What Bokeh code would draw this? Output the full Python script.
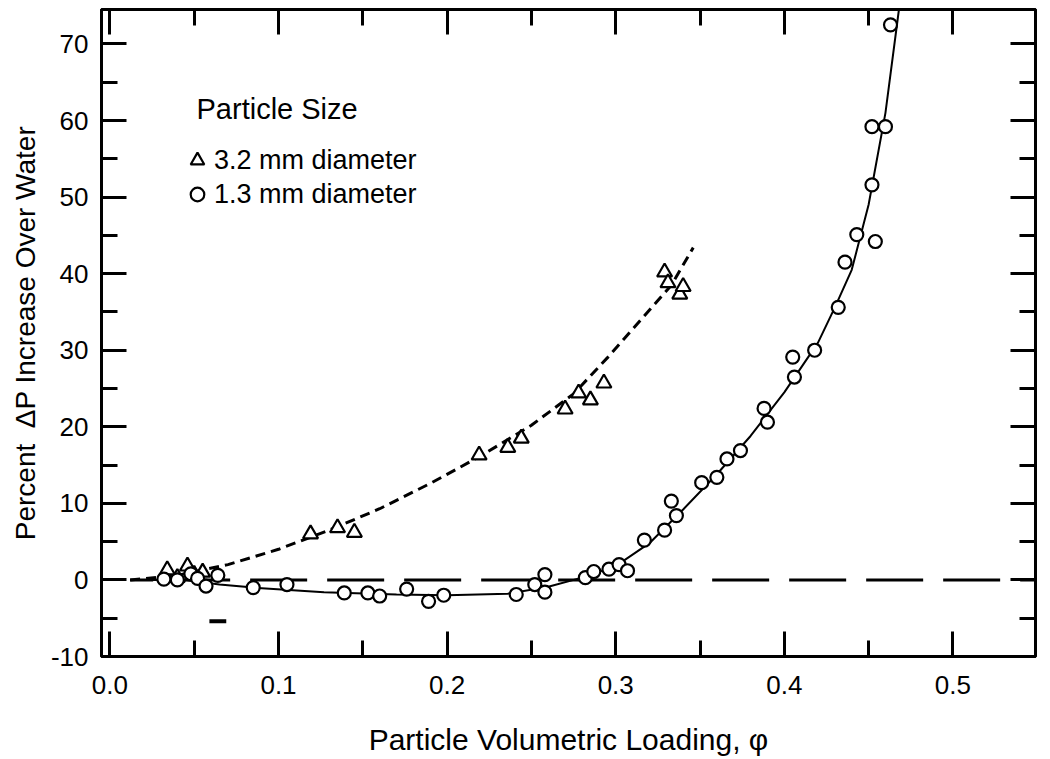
from bokeh.plotting import figure
from bokeh.models import (Range1d, LinearAxis, FixedTicker, NumeralTickFormatter,
                          CustomJSTickFormatter, Legend, LegendItem, Label)
from bokeh.embed import file_html
from bokeh.resources import INLINE

# ---------------- data ----------------
tri_x = [0.034, 0.040, 0.046, 0.050, 0.055, 0.119, 0.135, 0.145, 0.219, 0.236, 0.244,
         0.270, 0.278, 0.285, 0.293, 0.329, 0.331, 0.338, 0.340]
tri_y = [1.3, 0.3, 1.8, 0.7, 1.0, 6.0, 6.8, 6.2, 16.3, 17.3, 18.5,
         22.3, 24.4, 23.5, 25.7, 40.2, 38.8, 37.3, 38.3]

circ_x = [0.032, 0.040, 0.048, 0.052, 0.057, 0.064, 0.085, 0.105, 0.139, 0.153, 0.160,
          0.176, 0.189, 0.198, 0.241, 0.252, 0.258, 0.258, 0.282, 0.287, 0.296, 0.302,
          0.307, 0.317, 0.329, 0.333, 0.336, 0.351, 0.360, 0.366, 0.374, 0.388, 0.390,
          0.405, 0.406, 0.418, 0.432, 0.436, 0.443, 0.454, 0.452, 0.452, 0.460, 0.463]
circ_y = [0.1, 0.0, 0.8, 0.2, -0.8, 0.6, -1.0, -0.6, -1.7, -1.7, -2.1,
          -1.2, -2.8, -2.0, -1.9, -0.6, 0.7, -1.6, 0.3, 1.1, 1.4, 2.0,
          1.2, 5.2, 6.5, 10.3, 8.4, 12.7, 13.4, 15.8, 16.9, 22.4, 20.6,
          29.1, 26.5, 30.0, 35.6, 41.5, 45.1, 44.2, 51.6, 59.2, 59.2, 72.5]

tri_curve_x = [0.012, 0.04, 0.07, 0.10, 0.13, 0.16, 0.19, 0.22, 0.25, 0.275, 0.295,
               0.315, 0.333, 0.346]
tri_curve_y = [0.0, 0.6, 2.0, 4.0, 6.5, 9.3, 12.6, 16.2, 20.2, 24.3, 29.0,
               34.0, 38.5, 43.4]

circ_curve_x = [0.012, 0.045, 0.065, 0.085, 0.127, 0.17, 0.20, 0.236, 0.26, 0.28, 0.30,
                0.32, 0.34, 0.36, 0.38, 0.40, 0.42, 0.43, 0.44, 0.45, 0.46, 0.468]
circ_curve_y = [0.0, 0.0, -0.6, -1.0, -1.6, -1.9, -2.0, -1.8, -0.9, 0.3, 1.8,
                4.8, 9.2, 13.8, 18.8, 24.5, 31.0, 35.6, 40.5, 49.0, 61.0, 74.5]

zero_x = [0.012, 0.549]
zero_y = [0.0, 0.0]

stray_x0 = [0.059]
stray_x1 = [0.069]
stray_y = [-5.4]

x_ticks = [0.0, 0.1, 0.2, 0.3, 0.4, 0.5]
x_minor = [0.05, 0.15, 0.25, 0.35, 0.45]
y_ticks = [-10, 0, 10, 20, 30, 40, 50, 60, 70]
y_minor = [-5, 5, 15, 25, 35, 45, 55, 65]

legend_title = "Particle Size"
series_names = ["3.2 mm diameter", "1.3 mm diameter"]
x_label = "Particle Volumetric Loading, φ"
y_label = "Percent \u00a0ΔP Increase Over Water"

FONT = "Liberation Sans"

# ---------------- figure ----------------
p = figure(width=1042, height=759, output_backend="svg", toolbar_location=None,
           x_range=Range1d(-0.005, 0.549), y_range=Range1d(-10, 74.5),
           min_border_left=101, min_border_top=9, min_border_right=7, min_border_bottom=103,
           x_axis_label=x_label, y_axis_label=y_label)
p.grid.visible = False
p.outline_line_color = "black"
p.outline_line_width = 3
p.background_fill_color = "white"
p.border_fill_color = "white"

def style_axis(ax, ticks, minor):
    ax.ticker = FixedTicker(ticks=ticks, minor_ticks=minor)
    ax.axis_line_color = "black"
    ax.axis_line_width = 3
    ax.major_tick_in = 25
    ax.major_tick_out = 0
    ax.minor_tick_in = 16
    ax.minor_tick_out = 0
    ax.major_tick_line_width = 3
    ax.minor_tick_line_width = 3
    ax.major_tick_line_color = "black"
    ax.minor_tick_line_color = "black"
    ax.major_label_text_font = FONT
    ax.major_label_text_font_size = "26px"
    ax.major_label_text_color = "black"
    ax.axis_label_text_font = FONT
    ax.axis_label_text_font_style = "normal"
    ax.axis_label_text_color = "black"

xa = p.xaxis[0]
ya = p.yaxis[0]
style_axis(xa, x_ticks, x_minor)
style_axis(ya, y_ticks, y_minor)
xa.formatter = NumeralTickFormatter(format="0.0")
ya.formatter = NumeralTickFormatter(format="0")
xa.major_label_standoff = 19
xa.axis_label_standoff = 26
xa.axis_label_text_font_size = "30px"
ya.major_label_standoff = 13
ya.axis_label_standoff = 7
ya.axis_label_text_font_size = "28px"

blank = CustomJSTickFormatter(code="return ''")
top_ax = LinearAxis()
right_ax = LinearAxis()
style_axis(top_ax, x_ticks, x_minor)
style_axis(right_ax, y_ticks, y_minor)
for ax in (top_ax, right_ax):
    ax.formatter = blank
    ax.major_label_text_font_size = "0px"
    ax.major_label_standoff = 0
p.add_layout(top_ax, "above")
p.add_layout(right_ax, "right")

# ---------------- glyphs ----------------
p.line(zero_x, zero_y, line_color="black", line_width=3, line_dash="57 20", line_dash_offset=34)
p.line(tri_curve_x, tri_curve_y, line_color="black", line_width=3, line_dash="10 6")
p.line(circ_curve_x, circ_curve_y, line_color="black", line_width=2)
p.segment(x0=stray_x0, y0=stray_y, x1=stray_x1, y1=stray_y, line_color="black", line_width=4)

r_tri = p.scatter(tri_x, tri_y, marker="triangle", size=15, line_color="black",
                  line_width=2.2, fill_color="white")
r_circ = p.scatter(circ_x, circ_y, marker="circle", size=13, line_color="black",
                   line_width=2.2, fill_color="white")

legend = Legend(items=[LegendItem(label=series_names[0], renderers=[r_tri]),
                       LegendItem(label=series_names[1], renderers=[r_circ])],
                location=(79, 445))
legend.label_text_font = FONT
legend.label_text_font_size = "27px"
legend.label_text_color = "black"
legend.label_standoff = 0
legend.glyph_width = 34
legend.glyph_height = 34
legend.label_height = 20
legend.spacing = 0
legend.padding = 0
legend.margin = 0
legend.border_line_color = None
legend.background_fill_alpha = 0
p.add_layout(legend)

title_lbl = Label(x=95, y=548, x_units="screen", y_units="screen", text=legend_title,
                  text_font=FONT, text_font_size="29px", text_color="black",
                  text_baseline="middle", text_align="left")
p.add_layout(title_lbl)

open("out.html", "w").write(file_html(p, INLINE))
